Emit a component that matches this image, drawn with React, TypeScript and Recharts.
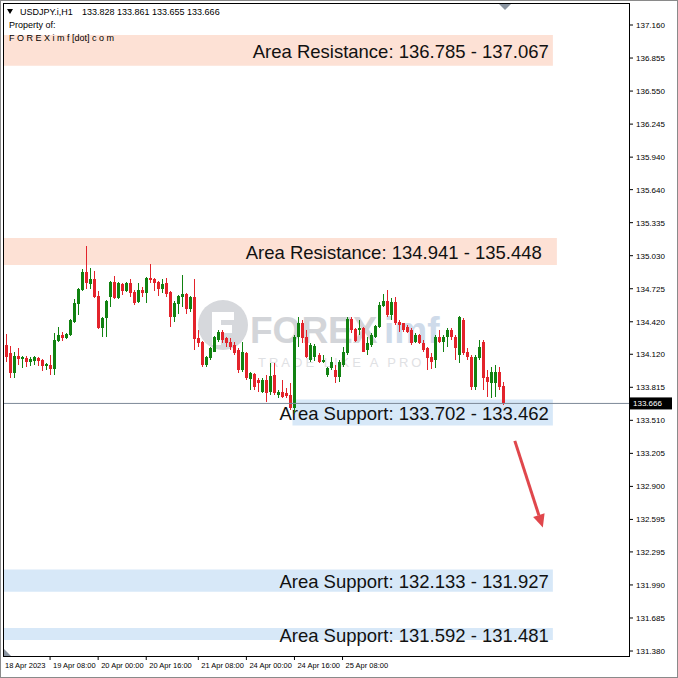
import React from "react";
import { ComposedChart, Bar, XAxis, YAxis, ReferenceArea, ReferenceLine } from "recharts";

// USDJPY.i H1 candles
const opens = [
  134.206, 134.132, 133.947, 134.104, 134.076, 134.085, 134.049, 134.058, 134.085, 134.067,
  134.011, 134.021, 133.984, 134.243, 134.298, 134.270, 134.298, 134.418, 134.584, 134.713,
  134.879, 134.769, 134.815, 134.658, 134.363, 134.455, 134.649, 134.787, 134.639, 134.769,
  134.704, 134.778, 134.695, 134.602, 134.713, 134.686, 134.824, 134.815, 134.787, 134.723,
  134.778, 134.695, 134.464, 134.584, 134.649, 134.676, 134.538, 134.649, 134.270, 134.233,
  134.021, 134.085, 134.141, 134.252, 134.326, 134.270, 134.233, 134.206, 134.159, 133.974,
  134.132, 133.891, 133.938, 133.882, 133.771, 133.882, 133.771, 133.928, 133.744, 133.771,
  133.762, 133.744, 133.624, 134.280, 134.409, 134.280, 134.067, 134.095, 134.113, 134.049,
  133.928, 133.993, 133.974, 133.910, 134.021, 134.132, 134.446, 134.353, 134.344, 134.363,
  134.159, 134.206, 134.280, 134.372, 134.566, 134.612, 134.482, 134.602, 134.418, 134.409,
  134.372, 134.344, 134.233, 134.298, 134.224, 134.178, 134.095, 134.067, 134.280, 134.233,
  134.280, 134.344, 134.280, 134.113, 134.436, 134.141, 134.095, 133.818, 134.085, 134.233,
  133.910, 133.855, 133.855, 133.956, 133.828,
];
const highs = [
  134.307, 134.196, 134.141, 134.178, 134.104, 134.104, 134.095, 134.104, 134.095, 134.076,
  134.039, 134.113, 134.316, 134.372, 134.326, 134.316, 134.446, 134.630, 134.732, 134.907,
  135.120, 134.916, 134.889, 134.704, 134.464, 134.621, 134.797, 134.843, 134.787, 134.778,
  134.787, 134.815, 134.713, 134.778, 134.741, 134.833, 134.953, 134.824, 134.797, 134.815,
  134.824, 134.704, 134.612, 134.667, 134.852, 134.686, 134.658, 134.815, 134.344, 134.243,
  134.104, 134.187, 134.290, 134.344, 134.344, 134.280, 134.270, 134.233, 134.178, 134.233,
  134.141, 133.956, 133.947, 133.901, 133.901, 133.928, 134.039, 134.039, 133.790, 133.882,
  133.808, 133.855, 134.298, 134.464, 134.436, 134.344, 134.224, 134.215, 134.132, 134.113,
  134.002, 134.095, 134.021, 134.067, 134.187, 134.464, 134.464, 134.363, 134.436, 134.372,
  134.280, 134.316, 134.391, 134.602, 134.676, 134.713, 134.639, 134.649, 134.436, 134.409,
  134.391, 134.363, 134.316, 134.307, 134.252, 134.187, 134.132, 134.298, 134.344, 134.298,
  134.363, 134.363, 134.298, 134.473, 134.455, 134.178, 134.113, 134.113, 134.252, 134.252,
  133.974, 134.002, 134.021, 134.002, 133.861,
];
const lows = [
  134.049, 133.901, 133.901, 134.021, 133.993, 134.002, 134.011, 134.021, 134.011, 133.965,
  133.974, 133.928, 133.928, 134.233, 134.243, 134.261, 134.289, 134.410, 134.482, 134.704,
  134.723, 134.723, 134.639, 134.353, 134.280, 134.280, 134.556, 134.630, 134.630, 134.667,
  134.695, 134.649, 134.575, 134.593, 134.649, 134.593, 134.778, 134.704, 134.658, 134.686,
  134.649, 134.372, 134.418, 134.492, 134.556, 134.492, 134.510, 134.159, 134.187, 134.002,
  134.002, 134.067, 134.141, 134.233, 134.224, 134.187, 134.159, 134.113, 133.947, 133.956,
  133.882, 133.790, 133.790, 133.771, 133.762, 133.679, 133.744, 133.744, 133.716, 133.716,
  133.716, 133.605, 133.577, 134.187, 134.224, 134.085, 134.049, 134.058, 134.039, 134.039,
  133.910, 133.974, 133.855, 133.864, 134.002, 134.113, 134.316, 134.233, 134.298, 134.141,
  134.113, 134.187, 134.270, 134.363, 134.556, 134.464, 134.436, 134.391, 134.326, 134.326,
  134.316, 134.206, 134.224, 134.215, 134.141, 133.974, 133.984, 133.993, 134.224, 134.141,
  134.187, 134.252, 134.067, 134.039, 134.113, 134.067, 133.790, 133.790, 134.067, 133.790,
  133.725, 133.716, 133.725, 133.790, 133.655,
];
const closes = [
  134.095, 133.947, 134.104, 134.076, 134.095, 134.049, 134.076, 134.095, 134.058, 134.011,
  134.030, 133.984, 134.252, 134.298, 134.270, 134.307, 134.436, 134.593, 134.723, 134.879,
  134.778, 134.815, 134.649, 134.363, 134.455, 134.612, 134.787, 134.639, 134.778, 134.704,
  134.778, 134.686, 134.593, 134.713, 134.686, 134.824, 134.806, 134.778, 134.723, 134.769,
  134.676, 134.464, 134.593, 134.658, 134.676, 134.538, 134.649, 134.261, 134.224, 134.021,
  134.095, 134.178, 134.280, 134.326, 134.252, 134.224, 134.187, 134.132, 133.974, 134.141,
  133.901, 133.947, 133.818, 133.855, 133.882, 133.762, 133.919, 133.762, 133.771, 133.725,
  133.735, 133.624, 134.280, 134.409, 134.270, 134.095, 134.206, 134.196, 134.049, 134.067,
  133.993, 134.049, 133.910, 134.049, 134.141, 134.446, 134.344, 134.243, 134.363, 134.141,
  134.224, 134.298, 134.381, 134.575, 134.612, 134.482, 134.602, 134.409, 134.391, 134.344,
  134.326, 134.224, 134.298, 134.224, 134.159, 134.085, 134.049, 134.280, 134.233, 134.280,
  134.344, 134.280, 134.178, 134.464, 134.132, 134.095, 133.818, 134.095, 134.187, 133.901,
  133.864, 133.956, 133.956, 133.818, 133.666,
];

const totalSlots = 156; // candles + empty shift space on the right

const dateTickBars = [0, 11, 23, 35, 48, 60, 72, 84];
const dateTickLabels = [
  "18 Apr 2023", "19 Apr 08:00", "20 Apr 00:00", "20 Apr 16:00",
  "21 Apr 08:00", "24 Apr 00:00", "24 Apr 16:00", "25 Apr 08:00",
];

const priceTicks = [
  131.38, 131.685, 131.99, 132.295, 132.595, 132.9, 133.205, 133.51, 133.815, 134.12,
  134.42, 134.725, 135.03, 135.335, 135.64, 135.94, 136.245, 136.55, 136.855, 137.16,
];

const zoneLow = [136.785, 134.944, 133.462, 131.927, 131.481];
const zoneHigh = [137.067, 135.193, 133.702, 132.133, 131.592];
const zoneFrom = [0, 0, 72, 0, 0];
const zoneTo = [136, 137, 136, 136, 136];
const zoneText = [
  "Area Resistance: 136.785 - 137.067",
  "Area Resistance: 134.941 - 135.448",
  "Area Support: 133.702 - 133.462",
  "Area Support: 132.133 - 131.927",
  "Area Support: 131.592 - 131.481",
];
const zoneKind = ["res", "res", "sup", "sup", "sup"];

const arrowBars = [127, 134];
const arrowPrices = [133.32, 132.52];

const FONT = "'Liberation Sans', Arial, sans-serif";
const UP = "#118211";
const DOWN = "#e3232b";

const data = Array.from({ length: totalSlots }, (_, i) =>
  i < opens.length
    ? { i, o: opens[i], h: highs[i], l: lows[i], c: closes[i] }
    : { i }
);

function Candle(props: any) {
  const { x, y, width, height, payload } = props;
  if (!payload || payload.o == null || !isFinite(y) || !isFinite(height)) return <g />;
  const { o, h, l, c } = payload;
  const k = h > l ? height / (h - l) : 0;
  const py = (v: number) => y + (h - v) * k;
  const top = py(Math.max(o, c));
  const bot = py(Math.min(o, c));
  const color = c >= o ? UP : DOWN;
  const cx = Math.round(x + width / 2 - 0.5);
  return (
    <g shapeRendering="crispEdges">
      <rect x={cx} y={y} width={1} height={Math.max(height, 1)} fill={color} />
      <rect x={Math.round(x)} y={top} width={3} height={Math.max(bot - top, 1)} fill={color} />
    </g>
  );
}

function DateTick(props: any) {
  const { x, y, payload } = props;
  const k = dateTickBars.indexOf(payload.value);
  if (k < 0) return <g />;
  const tx = k === 0 ? x - 1 : x + 3;
  return (
    <g>
      {k > 0 && <line x1={x} x2={x} y1={y} y2={y + 4} stroke="#000" />}
      <text x={tx} y={y + 12} fontSize={7.5} fontFamily={FONT} fill="#000">
        {dateTickLabels[k]}
      </text>
    </g>
  );
}

function PriceTick(props: any) {
  const { x, y, payload } = props;
  return (
    <g>
      <line x1={x} x2={x + 4} y1={y} y2={y} stroke="#000" />
      <text x={x + 7} y={y + 3} fontSize={8} fontFamily={FONT} fill="#000">
        {Number(payload.value).toFixed(3)}
      </text>
    </g>
  );
}

function ZoneLabel(props: any) {
  const { viewBox, text, inset } = props;
  if (!viewBox) return null;
  return (
    <text
      x={viewBox.x + viewBox.width - inset}
      y={viewBox.y + viewBox.height / 2 + 1}
      textAnchor="end"
      dominantBaseline="central"
      fontSize={18.5}
      fontFamily={FONT}
      fill="#111"
    >
      {text}
    </text>
  );
}

function PriceTag(props: any) {
  const { viewBox } = props;
  if (!viewBox) return null;
  const x = viewBox.x + viewBox.width + 1;
  const y = viewBox.y;
  return (
    <g>
      <rect x={x} y={y - 6} width={42} height={12} fill="#000" />
      <text x={x + 3} y={y + 3} fontSize={8} fontFamily={FONT} fill="#fff">
        {closes[closes.length - 1].toFixed(3)}
      </text>
    </g>
  );
}

function Arrow(props: any) {
  const { x1, y1, x2, y2 } = props;
  if (![x1, y1, x2, y2].every((v) => isFinite(v))) return <g />;
  const dx = x2 - x1;
  const dy = y2 - y1;
  const len = Math.hypot(dx, dy);
  const ux = dx / len;
  const uy = dy / len;
  const head = 13;
  const bx = x2 - ux * head;
  const by = y2 - uy * head;
  const px = -uy * 6;
  const py = ux * 6;
  return (
    <g>
      <line x1={x1} y1={y1} x2={bx} y2={by} stroke="#e0474c" strokeWidth={3} />
      <polygon points={`${x2},${y2} ${bx + px},${by + py} ${bx - px},${by - py}`} fill="#e0474c" />
    </g>
  );
}

export default function App() {
  return (
    <div style={{ position: "absolute", left: 0, top: 0, width: 678, height: 678, background: "#fff" }}>
      <svg width={678} height={678} style={{ position: "absolute", left: 0, top: 0 }}>
        <g fontFamily={FONT}>
          <circle cx={223} cy={325} r={25} fill="#d6d8dc" />
          <path d="M212 312 h22 v8 h-13 v5 h11 v8 h-11 v12 h-9 z" fill="#fff" />
          <text x={250} y={343} fontSize={37} fontWeight="bold" fill="#d3d5d9">FOREX</text>
          <text x={384} y={343} fontSize={37} fontWeight="bold" fill="#cfdbea">imf</text>
          <text x={258} y={367} fontSize={13} letterSpacing={3} fill="#dfe1e4">TRADE LIKE A PRO</text>
        </g>
      </svg>
      <div style={{ position: "absolute", left: 0, top: 0 }}>
        <ComposedChart width={678} height={678} data={data} margin={{ top: 4, right: 0, bottom: 0, left: 4 }}>
          <XAxis
            dataKey="i"
            type="category"
            interval={0}
            height={22}
            tickSize={0}
            tickMargin={0}
            tickLine={false}
            axisLine={false}
            tick={<DateTick />}
          />
          <YAxis
            orientation="right"
            type="number"
            domain={[131.334, 137.354]}
            allowDataOverflow
            ticks={priceTicks}
            interval={0}
            width={49}
            tickSize={0}
            tickMargin={0}
            tickLine={false}
            axisLine={false}
            tick={<PriceTick />}
          />
          {zoneText.map((t, k) => (
            <ReferenceArea
              key={t}
              x1={zoneFrom[k]}
              x2={zoneTo[k]}
              y1={zoneLow[k]}
              y2={zoneHigh[k]}
              fill={zoneKind[k] === "res" ? "#fde1d5" : "#d7e8f8"}
              fillOpacity={1}
              stroke="none"
              label={<ZoneLabel text={t} inset={k === 1 ? 15 : 4} />}
            />
          ))}
          <ReferenceLine y={closes[closes.length - 1]} stroke="#7d8998" strokeWidth={1} label={<PriceTag />} />
          <Bar
            dataKey={(d: any) => (d.o == null ? undefined : [d.l, d.h])}
            barSize={3}
            shape={<Candle />}
            isAnimationActive={false}
          />
          <ReferenceLine
            segment={[
              { x: arrowBars[0], y: arrowPrices[0] },
              { x: arrowBars[1], y: arrowPrices[1] },
            ]}
            shape={<Arrow />}
          />
        </ComposedChart>
      </div>
      <svg width={678} height={678} style={{ position: "absolute", left: 0, top: 0, pointerEvents: "none" }}>
        <rect x={0.5} y={0.5} width={677} height={677} fill="none" stroke="#8a8a8a" />
        <rect x={3.5} y={3.5} width={626} height={653} fill="none" stroke="#000" />
        <polygon points="499,4 511,4 505,10" fill="#8a94a0" />
        <polygon points="4,649 4,656 11,656" fill="#8a94a0" />
        <polygon points="7,9 13,9 10,14" fill="#000" />
        <g fontFamily={FONT} fontSize={9} fill="#000">
          <text x={20} y={15}>USDJPY.i,H1</text>
          <text x={82} y={15}>133.828 133.861 133.655 133.666</text>
          <text x={9} y={28}>Property of:</text>
          <text x={9} y={41}>F O R E X i m f [dot] c o m</text>
        </g>
      </svg>
    </div>
  );
}
